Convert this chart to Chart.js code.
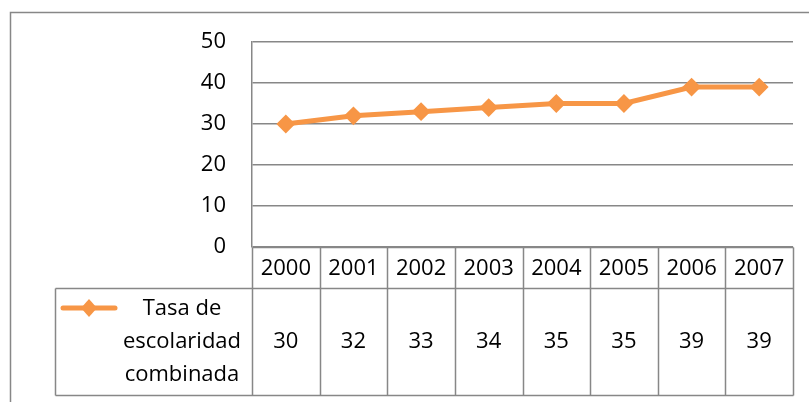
<!DOCTYPE html>
<html>
<head>
<meta charset="utf-8">
<script src="https://cdn.jsdelivr.net/npm/chart.js@4"></script>
<style>
  html, body { margin: 0; padding: 0; background: #fff; }
  #wrap { width: 809px; height: 402px; }
</style>
</head>
<body>
<div id="wrap"><canvas id="tasaChart" width="809" height="402"></canvas></div>
<script>
// chart data
const years = ['2000', '2001', '2002', '2003', '2004', '2005', '2006', '2007'];
const tasaValues = [30, 32, 33, 34, 35, 35, 39, 39];
const seriesLabel = ['Tasa de', 'escolaridad', 'combinada'];
const yTicks = [0, 10, 20, 30, 40, 50];

const ORANGE = '#F79646';
const GRID = '#878787';
const FONT = '"Open Sans", sans-serif';

// draws the outer frame and the data table under the plot
const dataTablePlugin = {
  id: 'dataTable',
  beforeDraw(chart) {
    const ctx = chart.ctx;
    ctx.save();
    ctx.fillStyle = '#fff';
    ctx.fillRect(0, 0, chart.width, chart.height);
    ctx.strokeStyle = GRID;
    ctx.lineWidth = 1.5;
    ctx.beginPath();
    ctx.moveTo(10.5, chart.height);
    ctx.lineTo(10.5, 12.5);
    ctx.lineTo(chart.width, 12.5);
    ctx.stroke();
    ctx.restore();
  },
  afterDraw(chart) {
    const ctx = chart.ctx;
    const x = chart.scales.x;
    const area = chart.chartArea;
    const colW = x.getPixelForValue(1) - x.getPixelForValue(0);
    const left = Math.round(area.left) + 0.5;
    const right = Math.round(x.getPixelForValue(years.length - 1) + colW / 2) + 0.5;
    const top = Math.round(area.bottom) + 0.5;
    const headBottom = top + 41;
    const rowBottom = headBottom + 107;
    const legendLeft = 55.5;

    ctx.save();
    ctx.strokeStyle = GRID;
    ctx.lineWidth = 1.5;
    ctx.beginPath();
    // horizontal lines
    ctx.moveTo(left, top); ctx.lineTo(right, top);
    ctx.moveTo(legendLeft, headBottom); ctx.lineTo(right, headBottom);
    ctx.moveTo(legendLeft, rowBottom); ctx.lineTo(right, rowBottom);
    // vertical lines
    for (let i = 0; i <= years.length; i++) {
      const cx = Math.round(x.getPixelForValue(i) - colW / 2) + 0.5;
      ctx.moveTo(cx, top); ctx.lineTo(cx, rowBottom);
    }
    ctx.moveTo(legendLeft, headBottom); ctx.lineTo(legendLeft, rowBottom);
    ctx.stroke();

    // texts
    ctx.fillStyle = '#000';
    ctx.font = '22px ' + FONT;
    ctx.textAlign = 'center';
    ctx.textBaseline = 'middle';
    const rowMid = (headBottom + rowBottom) / 2;
    years.forEach((yr, i) => {
      const cx = x.getPixelForValue(i);
      ctx.fillText(yr, cx, (top + headBottom) / 2 + 1);
      ctx.fillText(String(tasaValues[i]), cx, rowMid);
    });
    seriesLabel.forEach((t, i) => {
      ctx.fillText(t, 182, rowMid + (i - 1) * 33);
    });

    // legend key
    const ky = rowMid - 34;
    ctx.strokeStyle = ORANGE;
    ctx.lineWidth = 5;
    ctx.lineCap = 'round';
    ctx.beginPath();
    ctx.moveTo(63, ky); ctx.lineTo(115, ky);
    ctx.stroke();
    ctx.fillStyle = ORANGE;
    ctx.beginPath();
    ctx.moveTo(89, ky - 9); ctx.lineTo(97, ky); ctx.lineTo(89, ky + 9); ctx.lineTo(81, ky);
    ctx.closePath();
    ctx.fill();
    ctx.restore();
  }
};

const ctx = document.getElementById('tasaChart').getContext('2d');
new Chart(ctx, {
  type: 'line',
  data: {
    labels: years,
    datasets: [{
      label: seriesLabel.join(' '),
      data: tasaValues,
      borderColor: ORANGE,
      backgroundColor: ORANGE,
      borderWidth: 5,
      tension: 0,
      pointStyle: 'rectRot',
      pointRadius: 8,
      pointBorderWidth: 2,
      pointBorderColor: ORANGE,
      pointBackgroundColor: ORANGE
    }]
  },
  options: {
    responsive: false,
    animation: false,
    events: [],
    layout: { padding: { left: 0, top: 42, right: 16, bottom: 155 } },
    plugins: {
      legend: { display: false },
      tooltip: { enabled: false }
    },
    scales: {
      x: {
        offset: true,
        ticks: { display: false },
        grid: { display: false, drawTicks: false },
        border: { display: false }
      },
      y: {
        min: 0,
        max: 50,
        afterBuildTicks: (scale) => { scale.ticks = yTicks.map(v => ({ value: v })); },
        afterFit: (scale) => { scale.width = 252; },
        ticks: {
          padding: 26,
          color: '#000',
          font: { family: 'Open Sans', size: 22 }
        },
        grid: { color: GRID, lineWidth: 1.5, drawTicks: false },
        border: { display: true, color: GRID, width: 1.5 }
      }
    }
  },
  plugins: [dataTablePlugin]
});
</script>
</body>
</html>
